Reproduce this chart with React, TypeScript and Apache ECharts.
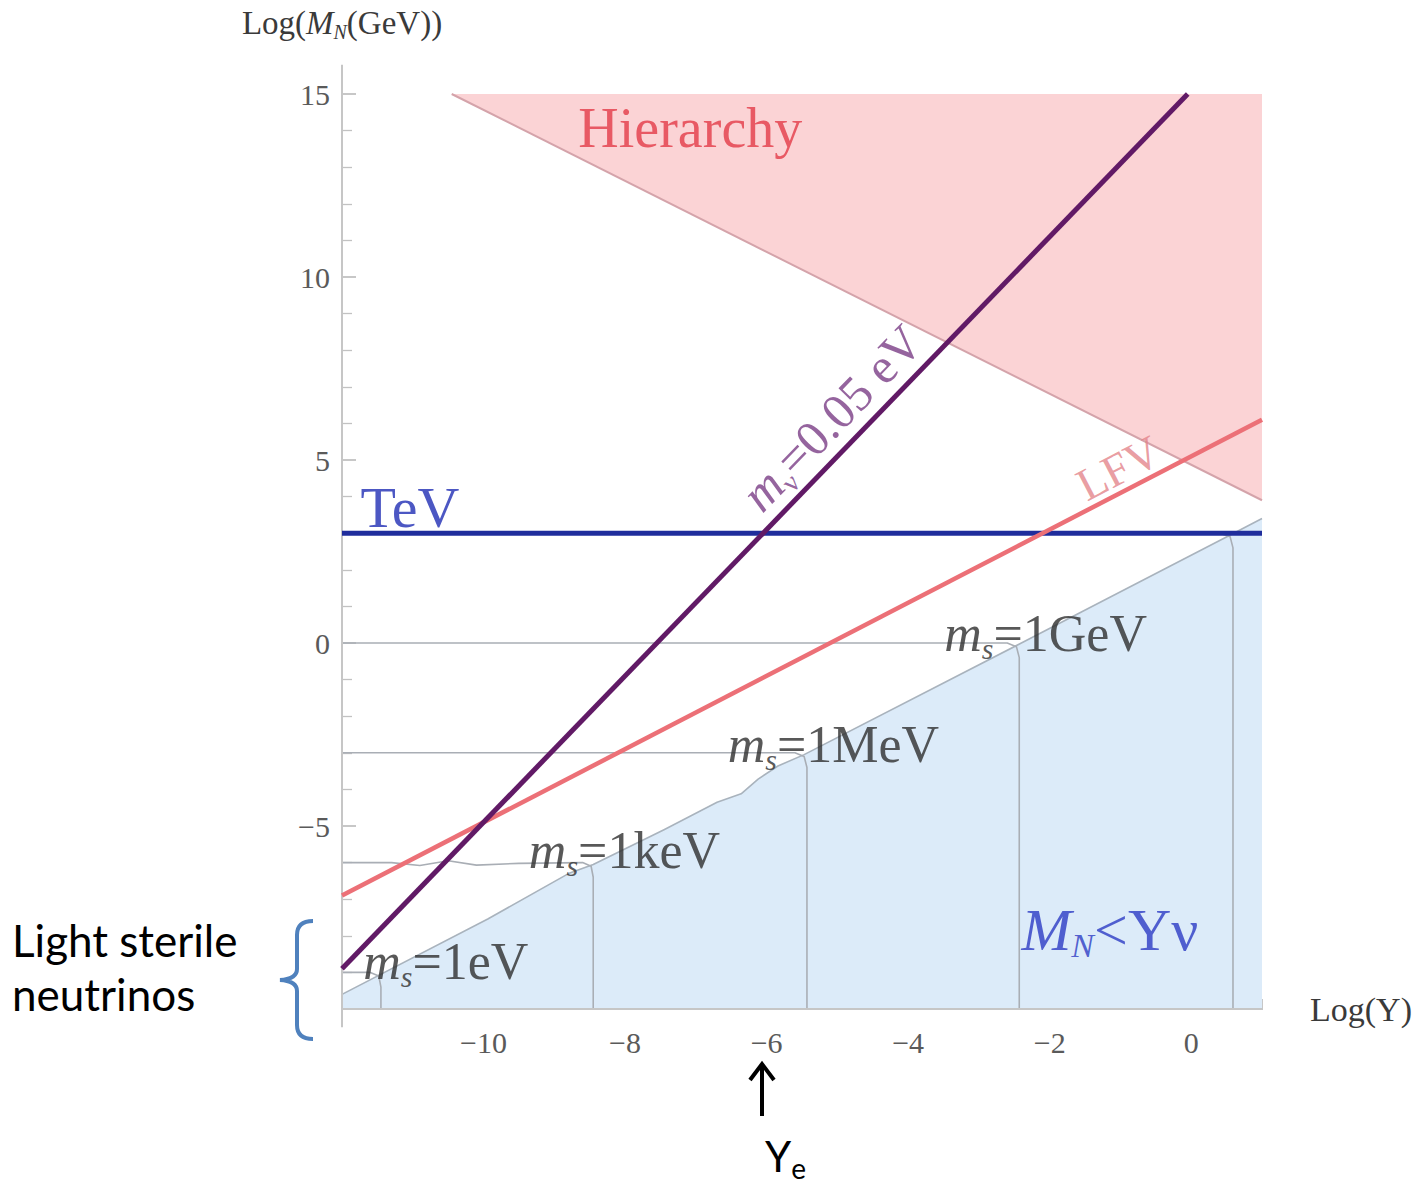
import React, { useEffect, useRef } from "react";
import * as echarts from "echarts";

const SERIF = '"Liberation Serif", "DejaVu Serif", serif';
const SANS = 'Lato, "Open Sans", sans-serif';

type Pt = [number, number];

// Plot window: log10 of the Yukawa coupling against log10 of M_N in GeV
const X_MIN = -12;
const X_MAX = 1;
const Y_MIN = -10;
const Y_MAX = 15;

// Axis lines run a little past the plotted window
const xAxisLine: Pt[] = [[-12.27, -10], [1.23, -10]];
const yAxisLine: Pt[] = [[-12, -10.5], [-12, 15.8]];

// m_nu = 0.05 eV seesaw line
const nuMassLine: Pt[] = [[-12, -8.9], [-0.05, 15]];
// LFV bound
const lfvLine: Pt[] = [[-12, -6.9], [1, 6.1]];
// TeV scale
const tevLine: Pt[] = [[-12, 3], [1, 3]];

// Excluded hierarchy region (upper right triangle)
const hierarchyRegion: Pt[] = [[-10.45, 15], [1, 15], [1, 3.9]];
const hierarchyEdge: Pt[] = [[-10.45, 15], [1, 3.9]];

// Upper edge of the M_N < Y v region
const seesawEdge: Pt[] = [
  [-12, -9.6], [-9.94, -7.54], [-8.8, -6.3], [-8.45, -6.05], [-7.45, -5.1],
  [-6.7, -4.35], [-6.36, -4.12], [-6.12, -3.72], [-5.84, -3.36], [-5.47, -3.05],
  [-2.4, 0], [0.6, 3], [1, 3.4],
];

// Sterile-mass contours (horizontal run, then dropping to the axis)
const contour1eV: Pt[] = [[-12, -9], [-11.6, -9], [-11.48, -9.1], [-11.45, -9.4], [-11.45, -10]];
const contour1keV: Pt[] = [
  [-12, -6], [-11.3, -6.0], [-10.9, -6.08], [-10.5, -5.95], [-10.1, -6.07],
  [-9.5, -6.02], [-8.6, -6.0], [-8.48, -6.1], [-8.45, -6.4], [-8.45, -10],
];
const contour1MeV: Pt[] = [[-12, -3], [-5.6, -3], [-5.47, -3.1], [-5.43, -3.4], [-5.43, -10]];
const contour1GeV: Pt[] = [[-12, 0], [-2.6, 0], [-2.47, -0.1], [-2.43, -0.4], [-2.43, -10]];
const contour1TeV: Pt[] = [[0.4, 3], [0.55, 2.9], [0.59, 2.6], [0.59, -10]];

const contourNames = ["1eV", "1keV", "1MeV", "1GeV"];
const contourLabelAt: Pt[] = [[-11.7, -8.69], [-9.36, -5.68], [-6.55, -2.76], [-3.49, 0.25]];

const hierarchyLabelAt: Pt = [-8.66, 14.07];
const tevLabelAt: Pt = [-11.74, 3.69];
const seesawLabelAt: Pt = [-2.4, -7.84];
const nuMassLabelAt: Pt = [-5.08, 6.15];
const lfvLabelAt: Pt = [-1.03, 4.78];

function fmtTick(v: number): string {
  return v < 0 ? "\u2212" + Math.abs(v) : String(v);
}

const BRACE_PATH =
  "M 33 0 Q 17 0 17 14 L 17 48 Q 17 58 0 59 Q 17 60 17 70 L 17 104 Q 17 118 33 118";
echarts.graphic.registerShape("brace", echarts.graphic.extendPath(BRACE_PATH, {}));

function regionSeries(points: Pt[], fill: string, z: number) {
  return {
    type: "custom",
    silent: true,
    z,
    data: [[0, 0]],
    renderItem: (_params: any, api: any) => ({
      type: "polygon",
      shape: { points: points.map((p) => api.coord(p)) },
      style: { fill },
    }),
  };
}

function lineSeries(data: Pt[], color: string, width: number, z: number, clip = true) {
  return {
    type: "line",
    data,
    symbol: "none",
    silent: true,
    clip,
    z,
    lineStyle: { color, width, cap: "butt", join: "round" },
  };
}

function msRich(color: string) {
  return {
    it: { fontFamily: SERIF, fontStyle: "italic", fontSize: 52, lineHeight: 60, color },
    sub: { fontFamily: SERIF, fontStyle: "italic", fontSize: 30, lineHeight: 30, padding: [30, 0, 0, 0], color },
    n: { fontFamily: SERIF, fontSize: 52, lineHeight: 60, color },
  };
}

export default function App() {
  const ref = useRef<HTMLDivElement>(null);

  useEffect(() => {
    if (!ref.current) return;
    const chart = echarts.init(ref.current, undefined, { renderer: "svg" });

    const seesawRegion: Pt[] = [[X_MIN, Y_MIN], ...seesawEdge, [X_MAX, Y_MIN]];
    const contourColor = "#a9aeb5";
    const blue = "#2c3bc4";
    const axisText = "#3a3a3a";

    const labelData: any[] = [
      {
        value: hierarchyLabelAt,
        label: { formatter: "Hierarchy", position: "right", distance: 0, fontFamily: SERIF, fontSize: 56, color: "#e33b47" },
      },
      {
        value: tevLabelAt,
        label: { formatter: "TeV", position: "right", distance: 0, fontFamily: SERIF, fontSize: 58, color: "#1f2db4" },
      },
      {
        value: seesawLabelAt,
        label: {
          formatter: "{it|M}{sub|N}{n|<Y\u03bd}",
          position: "right",
          distance: 0,
          rich: {
            it: { fontFamily: SERIF, fontStyle: "italic", fontSize: 60, lineHeight: 68, color: blue },
            sub: { fontFamily: SERIF, fontStyle: "italic", fontSize: 34, lineHeight: 34, padding: [32, 0, 0, 0], color: blue },
            n: { fontFamily: SERIF, fontSize: 60, lineHeight: 68, color: blue },
          },
        },
      },
      {
        value: nuMassLabelAt,
        label: {
          formatter: "{it|m}{sub|\u03bd}{n|=0.05 eV}",
          position: "inside",
          rotate: 46,
          align: "center",
          verticalAlign: "middle",
          rich: {
            it: { fontFamily: SERIF, fontStyle: "italic", fontSize: 50, lineHeight: 58, color: "#7b3d86" },
            sub: { fontFamily: SERIF, fontSize: 28, lineHeight: 28, padding: [30, 0, 0, 0], color: "#7b3d86" },
            n: { fontFamily: SERIF, fontSize: 50, lineHeight: 58, color: "#7b3d86" },
          },
        },
      },
      {
        value: lfvLabelAt,
        label: {
          formatter: "LFV",
          position: "inside",
          rotate: 27.4,
          align: "center",
          verticalAlign: "middle",
          fontFamily: SERIF,
          fontSize: 46,
          color: "#e3838a",
        },
      },
      ...contourNames.map((name, i) => ({
        value: contourLabelAt[i],
        label: {
          formatter: `{it|m}{sub|s}{n|=${name}}`,
          position: "right",
          distance: 0,
          rich: msRich("#2e2e2e"),
        },
      })),
    ];

    chart.setOption({
      animation: false,
      backgroundColor: "#ffffff",
      grid: { left: 342, right: 158, top: 94, bottom: 178, containLabel: false },
      xAxis: {
        type: "value",
        min: X_MIN,
        max: X_MAX,
        interval: 2,
        axisLine: { show: false, onZero: false },
        axisTick: { show: true, inside: true, length: 10, lineStyle: { color: "#b5b5b5", width: 1.5 } },
        minorTick: { show: true, splitNumber: 4, length: 8, lineStyle: { color: "#c2c2c2", width: 1.3 } },
        splitLine: { show: false },
        axisLabel: {
          formatter: (v: number) => (v === X_MIN || v === X_MAX ? "" : fmtTick(v)),
          margin: 18,
          fontFamily: SERIF,
          fontSize: 30,
          color: "#5a5a5a",
        },
        name: "Log(Y)",
        nameLocation: "end",
        nameGap: 48,
        nameTextStyle: { fontFamily: SERIF, fontSize: 34, color: axisText, padding: [16, 0, 0, 0] },
      },
      yAxis: {
        type: "value",
        min: Y_MIN,
        max: Y_MAX,
        interval: 5,
        axisLine: { show: false, onZero: false },
        axisTick: { show: true, inside: true, length: 14, lineStyle: { color: "#b5b5b5", width: 1.5 } },
        minorTick: { show: true, splitNumber: 5, length: 10, lineStyle: { color: "#c2c2c2", width: 1.3 } },
        splitLine: { show: false },
        axisLabel: {
          formatter: (v: number) => (v === Y_MIN ? "" : fmtTick(v)),
          margin: 12,
          fontFamily: SERIF,
          fontSize: 30,
          color: "#5a5a5a",
        },
        name: "{n|Log(}{i|M}{s|N}{n|(GeV))}",
        nameLocation: "end",
        nameGap: 52,
        nameTextStyle: {
          rich: {
            n: { fontFamily: SERIF, fontSize: 33, lineHeight: 38, color: axisText },
            i: { fontFamily: SERIF, fontStyle: "italic", fontSize: 33, lineHeight: 38, color: axisText },
            s: { fontFamily: SERIF, fontStyle: "italic", fontSize: 20, lineHeight: 20, padding: [18, 0, 0, 0], color: axisText },
          },
        },
      },
      series: [
        regionSeries(hierarchyRegion, "#fbd3d5", 1),
        regionSeries(seesawRegion, "#dcebf9", 1),
        lineSeries(hierarchyEdge, "#d4a3aa", 2, 2),
        lineSeries(seesawEdge, "#a9b3bd", 1.6, 2),
        lineSeries(contour1eV, contourColor, 1.6, 2),
        lineSeries(contour1keV, contourColor, 1.6, 2),
        lineSeries(contour1MeV, contourColor, 1.6, 2),
        lineSeries(contour1GeV, contourColor, 1.6, 2),
        lineSeries(contour1TeV, contourColor, 1.6, 2),
        lineSeries(xAxisLine, "#c6c6c6", 2, 3, false),
        lineSeries(yAxisLine, "#c6c6c6", 2, 3, false),
        lineSeries(tevLine, "#1f2d9c", 5, 4),
        lineSeries(lfvLine, "#ec7077", 4.5, 5),
        lineSeries(nuMassLine, "#611a66", 5, 6),
        {
          type: "scatter",
          symbolSize: 0,
          silent: true,
          clip: false,
          z: 10,
          label: { show: true },
          data: labelData,
        },
      ],
      graphic: [
        {
          type: "text",
          x: 12,
          y: 913,
          style: {
            text: "Light sterile\nneutrinos",
            fontFamily: SANS,
            fontSize: 44,
            lineHeight: 54,
            fill: "#000000",
            textVerticalAlign: "top",
            verticalAlign: "top",
          },
        },
        {
          type: "brace",
          x: 280,
          y: 921,
          style: { stroke: "#4f81bd", lineWidth: 4, fill: "none" },
        },
        {
          type: "polyline",
          shape: { points: [[762, 1116], [762, 1066]] },
          style: { stroke: "#000000", lineWidth: 4, fill: "none" },
        },
        {
          type: "polyline",
          shape: { points: [[750, 1080], [762, 1064], [774, 1080]] },
          style: { stroke: "#000000", lineWidth: 4, fill: "none" },
        },
        {
          type: "text",
          x: 765,
          y: 1134,
          style: {
            text: "{y|Y}{e|e}",
            textVerticalAlign: "top",
            verticalAlign: "top",
            rich: {
              y: { fontFamily: SANS, fontSize: 42, lineHeight: 44, fill: "#000000", color: "#000000" },
              e: { fontFamily: SANS, fontSize: 28, lineHeight: 28, padding: [24, 0, 0, 0], fill: "#000000", color: "#000000" },
            },
          },
        },
      ],
    });

    return () => {
      chart.dispose();
    };
  }, []);

  return (
    <div
      ref={ref}
      style={{ position: "absolute", left: 0, top: 0, width: 1420, height: 1187, background: "#ffffff" }}
    />
  );
}
